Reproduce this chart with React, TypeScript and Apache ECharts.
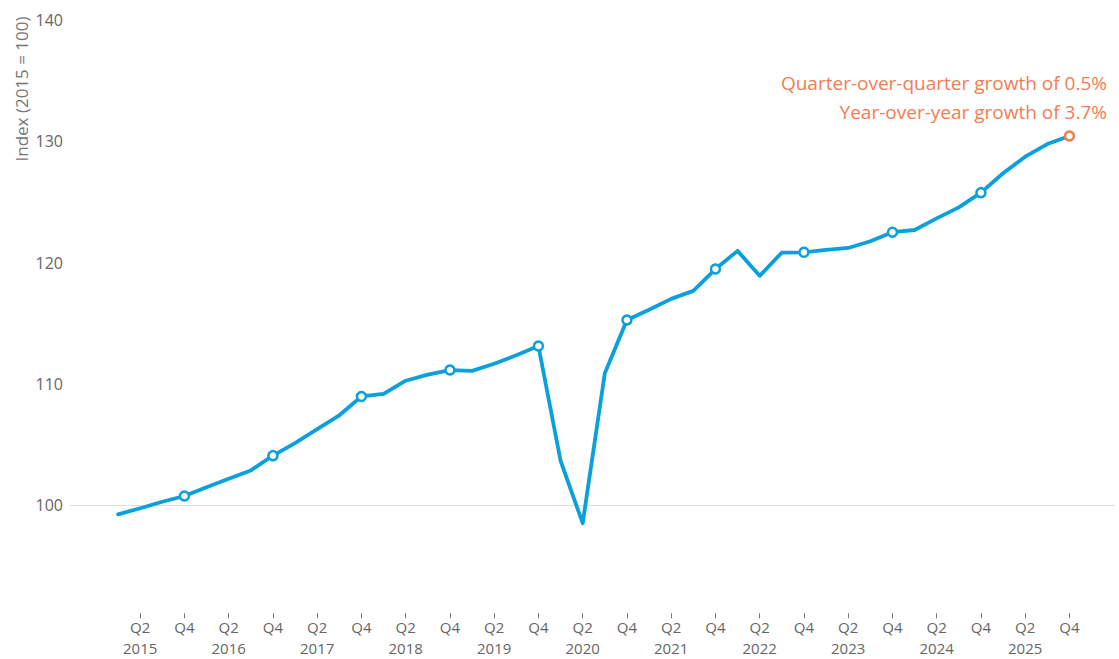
import React, { useEffect, useRef } from "react";
import * as echarts from "echarts";

const years = ["2015", "2016", "2017", "2018", "2019", "2020", "2021", "2022", "2023", "2024", "2025"];
const quarters = ["Q1", "Q2", "Q3", "Q4"];
const categories: string[] = years.flatMap((y) => quarters.map((q) => `${q} ${y}`));

const indexValues: number[] = [
  99.23, 99.73, 100.27, 100.74,
  101.46, 102.17, 102.85, 104.07,
  105.1, 106.25, 107.4, 108.95,
  109.17, 110.25, 110.75, 111.13,
  111.06, 111.65, 112.35, 113.11,
  103.65, 98.5, 110.86, 115.26,
  116.1, 117.0, 117.66, 119.46,
  120.96, 118.9, 120.82, 120.84,
  121.05, 121.2, 121.75, 122.5,
  122.68, 123.64, 124.55, 125.76,
  127.36, 128.73, 129.77, 130.43,
];

const yTicks = [90, 100, 110, 120, 130, 140];
const annotationLines = ["Quarter-over-quarter growth of 0.5%", "Year-over-year growth of 3.7%"];
const yAxisTitle = "Index (2015 = 100)";

const BLUE = "#0aa0dc";
const ORANGE = "#f47c52";
const FONT = "Open Sans";

export default function App() {
  const ref = useRef<HTMLDivElement>(null);
  useEffect(() => {
    if (!ref.current) return;
    const chart = echarts.init(ref.current, undefined, { renderer: "svg" });
    const last = indexValues.length - 1;
    const data = indexValues.map((v, i) =>
      i % 4 === 3
        ? {
            value: v,
            symbol: "circle",
            symbolSize: 9,
            itemStyle: { color: "#ffffff", borderColor: i === last ? ORANGE : BLUE, borderWidth: 2.5 },
          }
        : { value: v, symbol: "none" }
    );
    const labelBase = {
      interval: 0,
      color: "#666666",
      fontSize: 15,
      fontFamily: FONT,
      lineHeight: 17,
    };
    chart.setOption({
      animation: false,
      backgroundColor: "#ffffff",
      textStyle: { fontFamily: FONT },
      grid: [
        { left: 107, right: 38.5, top: 20, bottom: 32.75, outerBoundsMode: "none" },
        { left: 70, right: 4, top: 20, bottom: 32.75, outerBoundsMode: "none" },
      ],
      xAxis: [
        {
          type: "category",
          gridIndex: 0,
          data: categories,
          boundaryGap: true,
          offset: -13,
          axisLine: { show: false },
          axisTick: {
            show: true,
            alignWithLabel: true,
            interval: (idx: number) => idx % 2 === 1,
            length: 5,
            lineStyle: { color: "#777777", width: 1 },
          },
          axisLabel: {
            ...labelBase,
            margin: 5,
            formatter: (val: string, idx: number) => (idx % 2 === 1 ? val.split(" ")[0] : ""),
          },
          splitLine: { show: false },
        },
        { type: "value", gridIndex: 1, show: false, min: 0, max: 1 },
        {
          type: "category",
          gridIndex: 0,
          data: categories,
          boundaryGap: true,
          position: "bottom",
          offset: -13,
          axisLine: { show: false },
          axisTick: { show: false },
          axisLabel: {
            ...labelBase,
            margin: 26,
            formatter: (val: string, idx: number) => {
              const [q, y] = val.split(" ");
              return idx % 2 === 1 && q === "Q2" ? y : "";
            },
          },
          splitLine: { show: false },
        },
      ],
      yAxis: [
        {
          type: "value",
          gridIndex: 0,
          min: yTicks[0],
          max: yTicks[yTicks.length - 1],
          interval: 10,
          show: false,
          splitLine: { show: false },
        },
        {
          type: "value",
          gridIndex: 1,
          min: yTicks[0],
          max: yTicks[yTicks.length - 1],
          interval: 10,
          axisLine: { show: false },
          axisTick: { show: false },
          axisLabel: {
            color: "#666666",
            fontSize: 16,
            fontFamily: FONT,
            margin: 7,
            formatter: (v: number) => (v === yTicks[0] ? "" : String(v)),
          },
          splitLine: {
            show: true,
            lineStyle: {
              color: yTicks.map((t) => (t === 100 ? "#dedede" : "rgba(0,0,0,0)")),
              width: 1,
            },
          },
        },
      ],
      series: [
        {
          type: "line",
          xAxisIndex: 0,
          yAxisIndex: 0,
          data,
          showSymbol: true,
          showAllSymbol: true,
          symbol: "circle",
          lineStyle: { color: BLUE, width: 3.8, join: "round", cap: "round" },
          itemStyle: { color: BLUE },
          emphasis: { disabled: true },
          z: 3,
        },
      ],
      graphic: [
        {
          type: "text",
          x: 21,
          y: 89,
          rotation: Math.PI / 2,
          style: {
            text: yAxisTitle,
            fill: "#777777",
            fontSize: 17,
            fontFamily: FONT,
            align: "center",
            verticalAlign: "middle",
          },
        },
        ...annotationLines.map((t, k) => ({
          type: "text",
          x: 1107,
          y: 83 + k * 29,
          style: {
            text: t,
            fill: ORANGE,
            fontSize: 19,
            fontFamily: FONT,
            align: "right",
            verticalAlign: "middle",
          },
        })),
      ],
    });
    return () => chart.dispose();
  }, []);
  return (
    <div
      ref={ref}
      style={{ position: "absolute", left: 0, top: 0, width: 1119, height: 659 }}
    />
  );
}
